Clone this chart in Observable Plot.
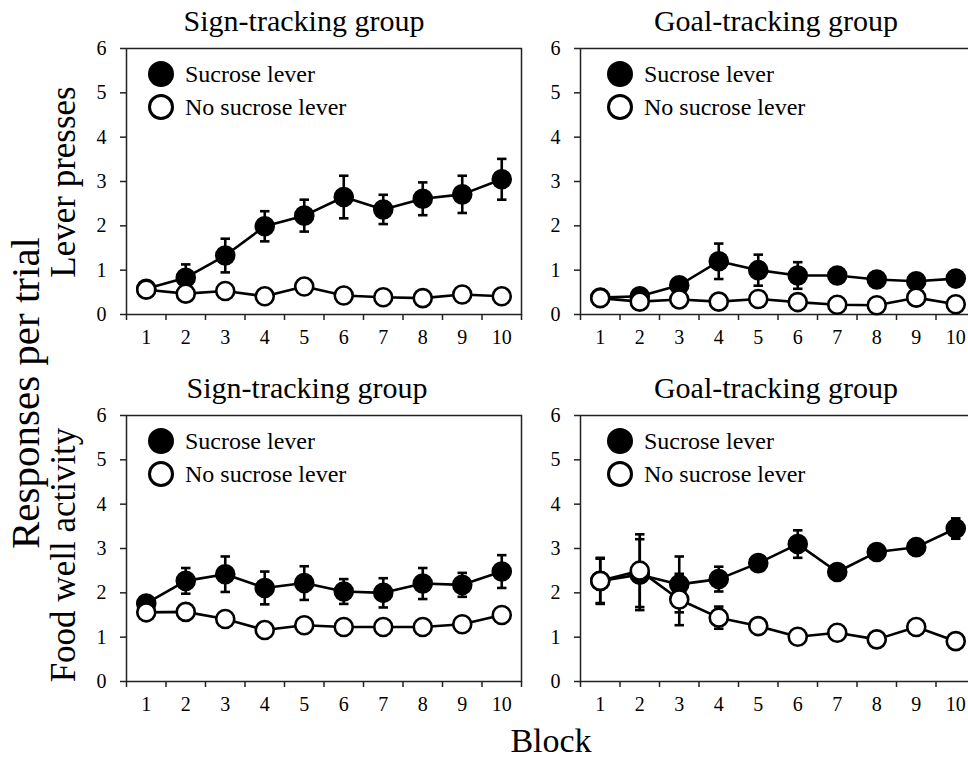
<!DOCTYPE html>
<html>
<head>
<meta charset="utf-8">
<script src="https://cdn.jsdelivr.net/npm/d3@7"></script>
<script src="https://cdn.jsdelivr.net/npm/@observablehq/plot@0.6"></script>
<style>
  html, body { margin: 0; padding: 0; background: white; }
  #root { position: relative; width: 968px; height: 761px; overflow: hidden; background: white; font-family: "Liberation Serif", "Times New Roman", serif; }
  .panel { position: absolute; }
  .panel svg { max-width: none !important; }
  #overlay { position: absolute; left: 0; top: 0; pointer-events: none; }
</style>
</head>
<body>
<div id="root"></div>
<script>
// ---- Data ----
const blocks = [1, 2, 3, 4, 5, 6, 7, 8, 9, 10];
const blockEdges = [0.5, 1.5, 2.5, 3.5, 4.5, 5.5, 6.5, 7.5, 8.5, 9.5, 10.5];
const yTicks = [0, 1, 2, 3, 4, 5, 6];

// Sign-tracking group, lever presses
const stLeverSucrose    = [0.58, 0.83, 1.33, 1.99, 2.23, 2.65, 2.37, 2.61, 2.71, 3.05];
const stLeverSucroseErr = [0.08, 0.30, 0.38, 0.34, 0.36, 0.48, 0.33, 0.37, 0.42, 0.46];
const stLeverNo         = [0.56, 0.47, 0.53, 0.41, 0.63, 0.43, 0.39, 0.37, 0.45, 0.41];
const stLeverNoErr      = [0.05, 0.05, 0.05, 0.05, 0.05, 0.05, 0.05, 0.05, 0.05, 0.05];

// Goal-tracking group, lever presses
const gtLeverSucrose    = [0.38, 0.41, 0.66, 1.20, 1.00, 0.88, 0.88, 0.79, 0.75, 0.81];
const gtLeverSucroseErr = [0.05, 0.05, 0.10, 0.40, 0.35, 0.30, 0.10, 0.08, 0.08, 0.08];
const gtLeverNo         = [0.37, 0.29, 0.34, 0.29, 0.35, 0.28, 0.22, 0.21, 0.38, 0.23];
const gtLeverNoErr      = [0.05, 0.05, 0.05, 0.05, 0.05, 0.05, 0.05, 0.05, 0.05, 0.05];

// Sign-tracking group, food well activity
const stFoodSucrose    = [1.76, 2.27, 2.42, 2.11, 2.22, 2.03, 2.00, 2.21, 2.18, 2.48];
const stFoodSucroseErr = [0.10, 0.29, 0.40, 0.37, 0.38, 0.28, 0.33, 0.35, 0.27, 0.37];
const stFoodNo         = [1.56, 1.57, 1.41, 1.16, 1.27, 1.23, 1.23, 1.23, 1.29, 1.50];
const stFoodNoErr      = [0.08, 0.08, 0.08, 0.08, 0.08, 0.08, 0.08, 0.08, 0.08, 0.08];

// Goal-tracking group, food well activity
const gtFoodSucrose    = [2.27, 2.41, 2.19, 2.31, 2.67, 3.10, 2.47, 2.92, 3.03, 3.45];
const gtFoodSucroseErr = [0.50, 0.80, 0.63, 0.28, 0.12, 0.31, 0.12, 0.12, 0.15, 0.23];
const gtFoodNo         = [2.27, 2.50, 1.85, 1.44, 1.25, 1.01, 1.10, 0.95, 1.23, 0.91];
const gtFoodNoErr      = [0.52, 0.82, 0.58, 0.25, 0.10, 0.10, 0.10, 0.10, 0.10, 0.10];

const panelTitles = ["Sign-tracking group", "Goal-tracking group", "Sign-tracking group", "Goal-tracking group"];
const rowLabels = ["Lever presses", "Food well activity"];
const seriesNames = ["Sucrose lever", "No sucrose lever"];
const yAxisTitle = "Responses per trial";
const xAxisTitle = "Block";

// ---- Layout ----
const FRAME_W = 395, FRAME_H = 266;
const ML = 60, MR = 10, MT = 15, MB = 45;
const panels = [
  {left: 126, top: 48, suc: stLeverSucrose, sucErr: stLeverSucroseErr, no: stLeverNo, noErr: stLeverNoErr, title: panelTitles[0], titleX: 304, titleY: 31, legDx: 35},
  {left: 580, top: 48, suc: gtLeverSucrose, sucErr: gtLeverSucroseErr, no: gtLeverNo, noErr: gtLeverNoErr, title: panelTitles[1], titleX: 776, titleY: 31, legDx: 40},
  {left: 126, top: 415, suc: stFoodSucrose, sucErr: stFoodSucroseErr, no: stFoodNo, noErr: stFoodNoErr, title: panelTitles[2], titleX: 307, titleY: 398, legDx: 35},
  {left: 580, top: 415, suc: gtFoodSucrose, sucErr: gtFoodSucroseErr, no: gtFoodNo, noErr: gtFoodNoErr, title: panelTitles[3], titleX: 776, titleY: 398, legDx: 40}
];

function rows(vals, errs) {
  return blocks.map((b, i) => ({block: b, v: vals[i], e: errs[i]}));
}

function seriesMarks(data, fill) {
  return [
    Plot.line(data, {x: "block", y: "v", stroke: "black", strokeWidth: 2.6}),
    Plot.ruleX(data, {x: "block", y1: d => d.v - d.e, y2: d => d.v + d.e, stroke: "black", strokeWidth: 2.6}),
    Plot.link(data, {x1: d => d.block - 0.12, x2: d => d.block + 0.12, y1: d => d.v + d.e, y2: d => d.v + d.e, stroke: "black", strokeWidth: 2.6}),
    Plot.link(data, {x1: d => d.block - 0.12, x2: d => d.block + 0.12, y1: d => d.v - d.e, y2: d => d.v - d.e, stroke: "black", strokeWidth: 2.6}),
    Plot.dot(data, {x: "block", y: "v", r: 9, fill: fill, stroke: "black", strokeWidth: 2.6})
  ];
}

function makePanel(p) {
  const S = rows(p.suc, p.sucErr);
  const N = rows(p.no, p.noErr);
  return Plot.plot({
    width: ML + FRAME_W + MR,
    height: MT + FRAME_H + MB,
    marginLeft: ML, marginRight: MR, marginTop: MT, marginBottom: MB,
    style: {fontFamily: "'Liberation Serif', 'Times New Roman', serif", fontSize: "20px", color: "black", background: "transparent", overflow: "visible", maxWidth: "none"},
    x: {domain: [0.5, 10.5], label: null},
    y: {domain: [0, 6], label: null},
    marks: [
      Plot.frame({stroke: "#222", strokeWidth: 1.5}),
      Plot.axisY({ticks: yTicks, tickSize: 6, tickPadding: 14, tickFormat: d => String(d), label: null, strokeWidth: 1.5, fill: "black", stroke: "#222"}),
      Plot.axisX({ticks: blockEdges, tickSize: 6, tickFormat: () => "", label: null, strokeWidth: 1.5, stroke: "#222"}),
      Plot.axisX({ticks: blocks, tickSize: 0, tickPadding: 15, tickFormat: d => String(d), label: null, fill: "black"}),
      ...seriesMarks(S, "black"),
      ...seriesMarks(N, "white")
    ]
  });
}

const root = document.getElementById("root");
for (const p of panels) {
  const chart = makePanel(p);
  const wrap = document.createElement("div");
  wrap.className = "panel";
  wrap.style.left = (p.left - ML) + "px";
  wrap.style.top = (p.top - MT) + "px";
  wrap.style.width = (ML + FRAME_W + MR) + "px";
  wrap.style.height = (MT + FRAME_H + MB) + "px";
  wrap.appendChild(chart);
  root.appendChild(wrap);
}

// ---- Text overlay (titles, axis titles, legends) ----
const NS = "http://www.w3.org/2000/svg";
const ov = document.createElementNS(NS, "svg");
ov.setAttribute("id", "overlay");
ov.setAttribute("width", 968);
ov.setAttribute("height", 761);
ov.style.fontFamily = "'Liberation Serif', 'Times New Roman', serif";
root.appendChild(ov);

function txt(str, x, y, size, anchor, rotate) {
  const t = document.createElementNS(NS, "text");
  t.textContent = str;
  t.setAttribute("font-size", size);
  t.setAttribute("text-anchor", anchor || "start");
  t.setAttribute("fill", "black");
  if (rotate) {
    t.setAttribute("transform", `translate(${x},${y}) rotate(${rotate})`);
  } else {
    t.setAttribute("x", x);
    t.setAttribute("y", y);
  }
  ov.appendChild(t);
}
function circ(cx, cy, r, fill) {
  const c = document.createElementNS(NS, "circle");
  c.setAttribute("cx", cx); c.setAttribute("cy", cy); c.setAttribute("r", r);
  c.setAttribute("fill", fill); c.setAttribute("stroke", "black"); c.setAttribute("stroke-width", 3);
  ov.appendChild(c);
}

for (const p of panels) {
  txt(p.title, p.titleX, p.titleY, 30, "middle");
  circ(p.left + p.legDx, p.top + 26, 11.5, "black");
  txt(seriesNames[0], p.left + p.legDx + 24, p.top + 34, 24, "start");
  circ(p.left + p.legDx, p.top + 59, 11.5, "white");
  txt(seriesNames[1], p.left + p.legDx + 24, p.top + 67, 24, "start");
}
txt(yAxisTitle, 39, 393, 41, "middle", -90);
txt(rowLabels[0], 75, 182, 35, "middle", -90);
txt(rowLabels[1], 75, 555, 35, "middle", -90);
txt(xAxisTitle, 551, 752, 34, "middle");
</script>
</body>
</html>
